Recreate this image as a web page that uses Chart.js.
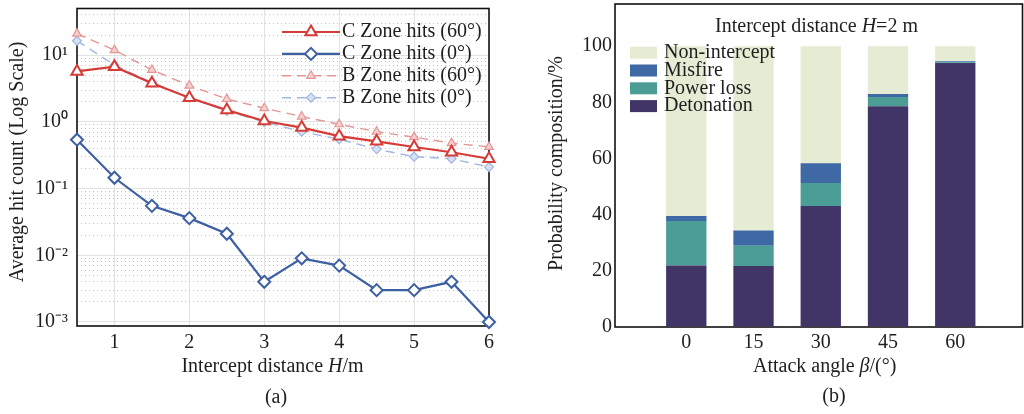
<!DOCTYPE html>
<html>
<head>
<meta charset="utf-8">
<script src="https://cdn.jsdelivr.net/npm/chart.js@4.4.1/dist/chart.umd.min.js"></script>
<style>
  html, body { margin: 0; padding: 0; background: #fff; }
  #wrap { position: relative; width: 1024px; height: 414px; }
  .panel { position: absolute; top: 0; width: 512px; height: 414px; }
  #panelA { left: 0; }
  #panelB { left: 512px; }
</style>
</head>
<body>
<div id="wrap">
  <div class="panel" id="panelA"><canvas id="hitsChart"></canvas></div>
  <div class="panel" id="panelB"><canvas id="compChart"></canvas></div>
</div>
<script>
/* ================= DATA ================= */

// (a) average hits vs intercept distance
const distances = [0.5, 1, 1.5, 2, 2.5, 3, 3.5, 4, 4.5, 5, 5.5, 6];
const distanceTicks = [1, 2, 3, 4, 5, 6];
const hitTicks = [0.001, 0.01, 0.1, 1, 10];

const cZone60 = [5.7, 6.7, 3.8, 2.3, 1.5, 1.03, 0.82, 0.61, 0.51, 0.42, 0.35, 0.28];
const cZone0  = [0.54, 0.145, 0.055, 0.036, 0.021, 0.004, 0.009, 0.007, 0.003, 0.003, 0.004, 0.001];
const bZone60 = [21, 11.9, 6.0, 3.5, 2.2, 1.6, 1.2, 0.92, 0.71, 0.59, 0.48, 0.42];
const bZone0  = [16.4, 7.1, 3.9, 2.3, 1.46, 1.0, 0.71, 0.55, 0.39, 0.30, 0.28, 0.21];

// (b) probability composition at H = 2 m
const attackAngles = [0, 15, 30, 45, 60];
const detonation   = [21.9, 21.7, 43.1, 78.6, 94.0];
const powerLoss    = [15.8, 7.2, 8.2, 3.3, 0.3];
const misfire      = [1.8, 5.5, 7.0, 1.1, 0.3];
const nonIntercept = [60.5, 65.6, 41.7, 17.0, 5.4];
const percentTicks = [0, 20, 40, 60, 80, 100];

/* ================= HELPERS ================= */

const serif = '"Liberation Serif", "Times New Roman", serif';
const ink = '#1e1e1e';

Chart.defaults.font.family = serif;
Chart.defaults.font.size = 20;
Chart.defaults.color = ink;

function xy( xs, ys ) {
    return xs.map( ( x, i ) => ( { x: x, y: ys[ i ] } ) );
}

const sup = { '-': '\u207B', '0': '\u2070', '1': '\u00B9', '2': '\u00B2', '3': '\u00B3',
              '4': '\u2074', '5': '\u2075', '6': '\u2076', '7': '\u2077', '8': '\u2078', '9': '\u2079' };

function powerLabel( v ) {
    let e = String( Math.round( Math.log10( v ) ) );
    return '10' + e.split( '' ).map( c => sup[ c ] ).join( '' );
}

// minor grid positions 2..9 x 10^n inside the axis range
function minorLogValues( min, max ) {
    let out = [];
    for ( let e = -4; e <= 2; e++ ) {
        for ( let m = 2; m <= 9; m++ ) {
            let v = m * Math.pow( 10, e );
            if ( v > min && v < max ) out.push( v );
        }
    }
    return out;
}

// text with italic pieces, centred on (cx, cy)
function drawRich( ctx, parts, cx, cy ) {
    let total = 0;
    parts.forEach( p => {
        ctx.font = ( p.italic ? 'italic ' : '' ) + '20px ' + serif;
        p.w = ctx.measureText( p.text ).width;
        total += p.w;
    } );
    let x = cx - total / 2;
    ctx.textAlign = 'left';
    ctx.textBaseline = 'middle';
    ctx.fillStyle = ink;
    parts.forEach( p => {
        ctx.font = ( p.italic ? 'italic ' : '' ) + '20px ' + serif;
        ctx.fillText( p.text, x, cy );
        x += p.w;
    } );
}

function drawMarker( ctx, style, x, y, r ) {
    ctx.beginPath();
    if ( style === 'triangle' ) {
        ctx.moveTo( x, y - r );
        ctx.lineTo( x + r * 0.866, y + r * 0.5 );
        ctx.lineTo( x - r * 0.866, y + r * 0.5 );
    } else {
        ctx.moveTo( x - r, y );
        ctx.lineTo( x, y - r );
        ctx.lineTo( x + r, y );
        ctx.lineTo( x, y + r );
    }
    ctx.closePath();
    ctx.fill();
    ctx.stroke();
}

const framePlugin = {
    id: 'frame',
    beforeDatasetsDraw( chart ) {
        const { ctx, chartArea: a } = chart;
        ctx.save();
        ctx.strokeStyle = '#111';
        ctx.lineWidth = 1.6;
        ctx.strokeRect( a.left, a.top, a.right - a.left, a.bottom - a.top );
        ctx.restore();
    }
};

/* ================= CHART (a) ================= */

const hitMin = 0.00087;
const hitMax = 50;

const hitsText = {
    id: 'hitsText',
    afterDraw( chart ) {
        const ctx = chart.ctx;
        ctx.save();

        // legend
        chart.data.datasets.forEach( ( ds, i ) => {
            let y = 32 + i * 21.9;
            ctx.strokeStyle = ds.borderColor;
            ctx.lineWidth = ds.borderWidth;
            ctx.setLineDash( ds.borderDash || [] );
            ctx.beginPath();
            ctx.moveTo( 282, y );
            ctx.lineTo( 340, y );
            ctx.stroke();
            ctx.setLineDash( [] );
            ctx.fillStyle = ds.pointBackgroundColor;
            ctx.strokeStyle = ds.pointBorderColor;
            ctx.lineWidth = ds.pointBorderWidth;
            drawMarker( ctx, ds.pointStyle, 311, y, ds.pointRadius );
            ctx.fillStyle = ink;
            ctx.font = '20px ' + serif;
            ctx.textAlign = 'left';
            ctx.textBaseline = 'middle';
            ctx.fillText( ds.label, 342, y );
        } );

        drawRich( ctx, [ { text: 'Intercept distance ' }, { text: 'H', italic: true }, { text: '/m' } ], 272.5, 366.7 );
        drawRich( ctx, [ { text: '(a)' } ], 276, 398 );

        ctx.translate( 18, 162 );
        ctx.rotate( -Math.PI / 2 );
        drawRich( ctx, [ { text: 'Average hit count (Log Scale)' } ], 0, 0 );
        ctx.restore();
    }
};

new Chart( document.getElementById( 'hitsChart' ), {
    type: 'line',
    data: {
        datasets: [ {
            label: 'C Zone hits (60\u00B0)',
            data: xy( distances, cZone60 ),
            borderColor: '#d63c37',
            borderWidth: 2.2,
            pointStyle: 'triangle',
            pointRadius: 6.5,
            pointBackgroundColor: '#ffffff',
            pointBorderColor: '#d63c37',
            pointBorderWidth: 2
        }, {
            label: 'C Zone hits (0\u00B0)',
            data: xy( distances, cZone0 ),
            borderColor: '#3d5fa3',
            borderWidth: 2.2,
            pointStyle: 'rectRot',
            pointRadius: 6,
            pointBackgroundColor: '#ffffff',
            pointBorderColor: '#3d5fa3',
            pointBorderWidth: 2
        }, {
            label: 'B Zone hits (60\u00B0)',
            data: xy( distances, bZone60 ),
            borderColor: '#e39795',
            borderWidth: 1.4,
            borderDash: [ 9, 6 ],
            pointStyle: 'triangle',
            pointRadius: 5,
            pointBackgroundColor: '#f4cfce',
            pointBorderColor: '#e39795',
            pointBorderWidth: 1.2
        }, {
            label: 'B Zone hits (0\u00B0)',
            data: xy( distances, bZone0 ),
            borderColor: '#a2b7e0',
            borderWidth: 1.4,
            borderDash: [ 9, 6 ],
            pointStyle: 'rectRot',
            pointRadius: 4.5,
            pointBackgroundColor: '#d5e0f3',
            pointBorderColor: '#a2b7e0',
            pointBorderWidth: 1.2
        } ]
    },
    options: {
        responsive: true,
        maintainAspectRatio: false,
        animation: false,
        devicePixelRatio: 1,
        layout: { padding: { top: 4, right: 23, left: 0, bottom: 0 } },
        datasets: { line: { clip: false, tension: 0 } },
        plugins: { legend: { display: false }, tooltip: { enabled: false } },
        scales: {
            x: {
                type: 'linear',
                min: 0.5,
                max: 6,
                afterBuildTicks: s => { s.ticks = distanceTicks.map( v => ( { value: v } ) ); },
                afterFit: s => { s.height = 88; },
                grid: { color: '#e2e2e2', drawTicks: false },
                border: { display: false },
                ticks: { padding: 5, autoSkip: false, maxRotation: 0, color: ink }
            },
            y: {
                type: 'logarithmic',
                min: hitMin,
                max: hitMax,
                afterBuildTicks: s => { s.ticks = hitTicks.map( v => ( { value: v, major: true } ) ); },
                afterFit: s => { s.width = 77; },
                grid: { color: '#e2e2e2', tickLength: 8, tickColor: 'rgba(0,0,0,0)' },
                border: { display: false },
                ticks: { padding: 1, autoSkip: false, color: ink, font: { lineHeight: 0.3 }, callback: v => powerLabel( v ) }
            },
            yMinor: {
                type: 'logarithmic',
                position: 'left',
                min: hitMin,
                max: hitMax,
                afterBuildTicks: s => { s.ticks = minorLogValues( hitMin, hitMax ).map( v => ( { value: v } ) ); },
                afterFit: s => { s.width = 0; },
                grid: { color: '#c4c4c4', drawTicks: false, lineWidth: 1 },
                border: { display: false, dash: [ 1, 3 ] },
                ticks: { display: false }
            }
        }
    },
    plugins: [ framePlugin, hitsText ]
} );

/* ================= CHART (b) ================= */

const angleIndex = attackAngles.map( ( a, i ) => i );

const compText = {
    id: 'compText',
    afterDraw( chart ) {
        const ctx = chart.ctx;
        ctx.save();

        // legend, top entry is the last stacked dataset
        let items = chart.data.datasets.slice().reverse();
        items.forEach( ( ds, i ) => {
            let y = 52.7 + i * 17.8;
            ctx.fillStyle = ds.backgroundColor;
            ctx.fillRect( 118, y - 6, 27, 12 );
            ctx.fillStyle = ink;
            ctx.font = '20px ' + serif;
            ctx.textAlign = 'left';
            ctx.textBaseline = 'middle';
            ctx.fillText( ds.label, 152, y );
        } );

        drawRich( ctx, [ { text: 'Intercept distance ' }, { text: 'H', italic: true }, { text: '=2 m' } ], 304.5, 26.7 );
        drawRich( ctx, [ { text: 'Attack angle ' }, { text: '\u03B2', italic: true }, { text: '/(\u00B0)' } ], 312.7, 366.7 );
        drawRich( ctx, [ { text: '(b)' } ], 322, 397 );

        ctx.translate( 45, 163.5 );
        ctx.rotate( -Math.PI / 2 );
        drawRich( ctx, [ { text: 'Probability composition/%' } ], 0, 0 );
        ctx.restore();
    }
};

new Chart( document.getElementById( 'compChart' ), {
    type: 'bar',
    data: {
        datasets: [ {
            label: 'Detonation',
            data: xy( angleIndex, detonation ),
            backgroundColor: '#413567'
        }, {
            label: 'Power loss',
            data: xy( angleIndex, powerLoss ),
            backgroundColor: '#4b9d96'
        }, {
            label: 'Misfire',
            data: xy( angleIndex, misfire ),
            backgroundColor: '#3e69a5'
        }, {
            label: 'Non-intercept',
            data: xy( angleIndex, nonIntercept ),
            backgroundColor: '#e6ecd4'
        } ]
    },
    options: {
        responsive: true,
        maintainAspectRatio: false,
        animation: false,
        devicePixelRatio: 1,
        layout: { padding: { top: 4, right: 1.5, left: 0, bottom: 0 } },
        datasets: { bar: { categoryPercentage: 0.6, barPercentage: 1, borderWidth: 0 } },
        plugins: { legend: { display: false }, tooltip: { enabled: false } },
        scales: {
            x: {
                type: 'linear',
                stacked: true,
                offset: false,
                min: -1.06,
                max: 5,
                afterBuildTicks: s => { s.ticks = angleIndex.map( v => ( { value: v } ) ); },
                afterFit: s => { s.height = 87; },
                grid: { color: 'rgba(0,0,0,0)', drawTicks: false, offset: false },
                border: { display: false },
                ticks: { padding: 4, autoSkip: false, maxRotation: 0, color: ink, callback: v => String( attackAngles[ v ] ) }
            },
            y: {
                stacked: true,
                min: 0,
                max: 115,
                afterBuildTicks: s => { s.ticks = percentTicks.map( v => ( { value: v } ) ); },
                afterFit: s => { s.width = 103; },
                grid: { color: 'rgba(0,0,0,0)', tickLength: 3, tickColor: 'rgba(0,0,0,0)' },
                border: { display: false },
                ticks: { padding: 0, autoSkip: false, color: ink, font: { lineHeight: 0.3 } }
            }
        }
    },
    plugins: [ framePlugin, compText ]
} );
</script>
</body>
</html>
